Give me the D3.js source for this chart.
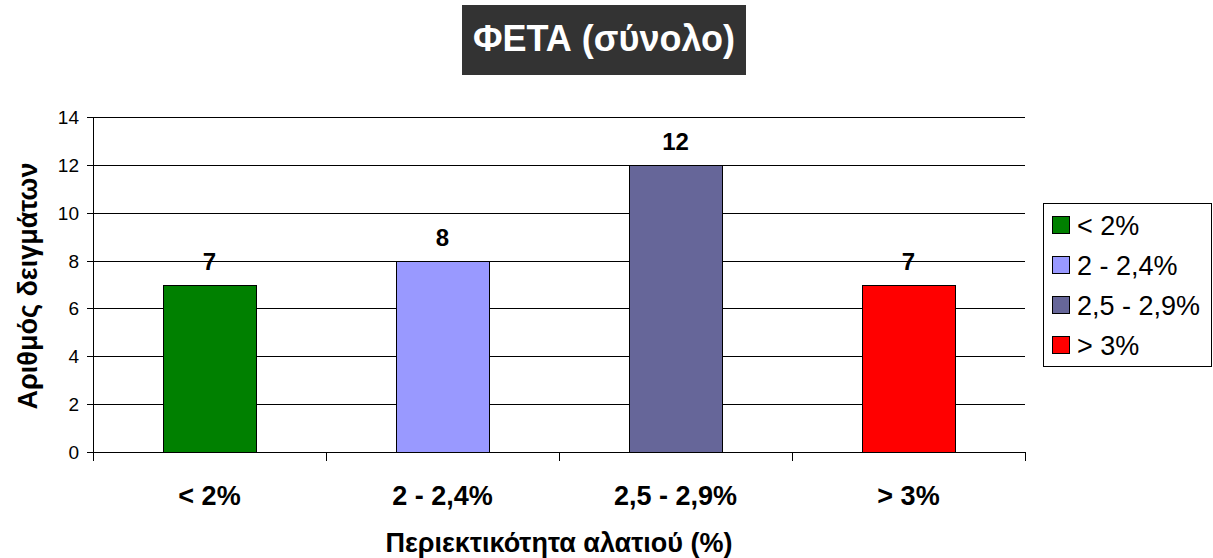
<!DOCTYPE html>
<html>
<head>
<meta charset="utf-8">
<script src="https://cdn.jsdelivr.net/npm/d3@7"></script>
<style>
  html, body { margin: 0; padding: 0; background: #fff; }
  svg { display: block; font-family: "Liberation Sans", Arial, sans-serif; }
</style>
</head>
<body>
<svg id="chart" width="1213" height="558"></svg>
<script>
const categories = ["< 2%", "2 - 2,4%", "2,5 - 2,9%", "> 3%"];
const values = [7, 8, 12, 7];
const colors = ["#008000", "#9999FF", "#666699", "#FF0000"];
const yTicks = [0, 2, 4, 6, 8, 10, 12, 14];
const titleText = "ΦΕΤΑ (σύνολο)";
const yTitle = "Αριθμός δειγμάτων";
const xTitle = "Περιεκτικότητα αλατιού (%)";

(function () {
const svg = d3.select("#chart");
const pL = 93, pR = 1025, pT = 117, pB = 452;

const x = d3.scaleBand().domain(categories).range([pL, pR]).paddingInner(0).paddingOuter(0);
const y = d3.scaleLinear().domain([0, 14]).range([pB, pT]);

// Title
const tg = svg.append("g");
tg.append("rect").attr("x", 462).attr("y", 5).attr("width", 284).attr("height", 70).attr("fill", "#333333");
tg.append("text").attr("x", 604).attr("y", 51).attr("text-anchor", "middle")
  .attr("fill", "#fff").attr("font-weight", "bold").attr("font-size", 36).text(titleText);

// gridlines
svg.append("g").selectAll("line").data(yTicks).join("line")
  .attr("x1", pL - 6).attr("x2", pR)
  .attr("y1", d => Math.round(y(d)) + 0.5).attr("y2", d => Math.round(y(d)) + 0.5)
  .attr("stroke", "#000").attr("stroke-width", 1);

// y tick labels
svg.append("g").selectAll("text").data(yTicks).join("text")
  .attr("x", pL - 14).attr("y", d => y(d) + 7).attr("text-anchor", "end")
  .attr("font-size", 19).attr("fill", "#000").text(d => d);

// y axis line
svg.append("line").attr("x1", pL + 0.5).attr("x2", pL + 0.5).attr("y1", pT).attr("y2", pB + 9)
  .attr("stroke", "#000");

// x tick marks at band boundaries
const bounds = categories.map(c => x(c)).concat([pR]);
svg.append("g").selectAll("line").data(bounds).join("line")
  .attr("x1", d => Math.round(d) + 0.5).attr("x2", d => Math.round(d) + 0.5)
  .attr("y1", pB).attr("y2", pB + 9).attr("stroke", "#000");

// bars
const bw = x.bandwidth() * 0.4;
svg.append("g").selectAll("rect").data(categories).join("rect")
  .attr("x", (d) => Math.round(x(d) + (x.bandwidth() - bw) / 2) + 0.5)
  .attr("y", (d, i) => Math.round(y(values[i])) + 0.5)
  .attr("width", Math.round(bw))
  .attr("height", (d, i) => Math.round(y(0)) - Math.round(y(values[i])))
  .attr("fill", (d, i) => colors[i]).attr("stroke", "#000").attr("stroke-width", 1);

// data labels
svg.append("g").selectAll("text").data(categories).join("text")
  .attr("x", d => x(d) + x.bandwidth() / 2)
  .attr("y", (d, i) => y(values[i]) - 15)
  .attr("text-anchor", "middle").attr("font-weight", "bold").attr("font-size", 24)
  .text((d, i) => values[i]);

// category labels
svg.append("g").selectAll("text").data(categories).join("text")
  .attr("x", d => x(d) + x.bandwidth() / 2).attr("y", 505)
  .attr("text-anchor", "middle").attr("font-weight", "bold").attr("font-size", 27)
  .text(d => d);

// axis titles
svg.append("text").attr("x", (pL + pR) / 2).attr("y", 552).attr("text-anchor", "middle")
  .attr("font-weight", "bold").attr("font-size", 27).text(xTitle);
svg.append("text").attr("transform", "translate(37,286) rotate(-90)").attr("text-anchor", "middle")
  .attr("font-weight", "bold").attr("font-size", 27).text(yTitle);

// legend
const lg = svg.append("g");
lg.append("rect").attr("x", 1043.5).attr("y", 203.5).attr("width", 168).attr("height", 163)
  .attr("fill", "#fff").attr("stroke", "#000");
const items = lg.selectAll("g.item").data(categories).join("g").attr("class", "item")
  .attr("transform", (d, i) => `translate(0, ${225 + i * 40})`);
items.append("rect").attr("x", 1052.5).attr("y", -8.5).attr("width", 17).attr("height", 17)
  .attr("fill", (d, i) => colors[i]).attr("stroke", "#000");
items.append("text").attr("x", 1077).attr("y", 9.5).attr("font-size", 27).text(d => d);
})();
</script>
</body>
</html>
